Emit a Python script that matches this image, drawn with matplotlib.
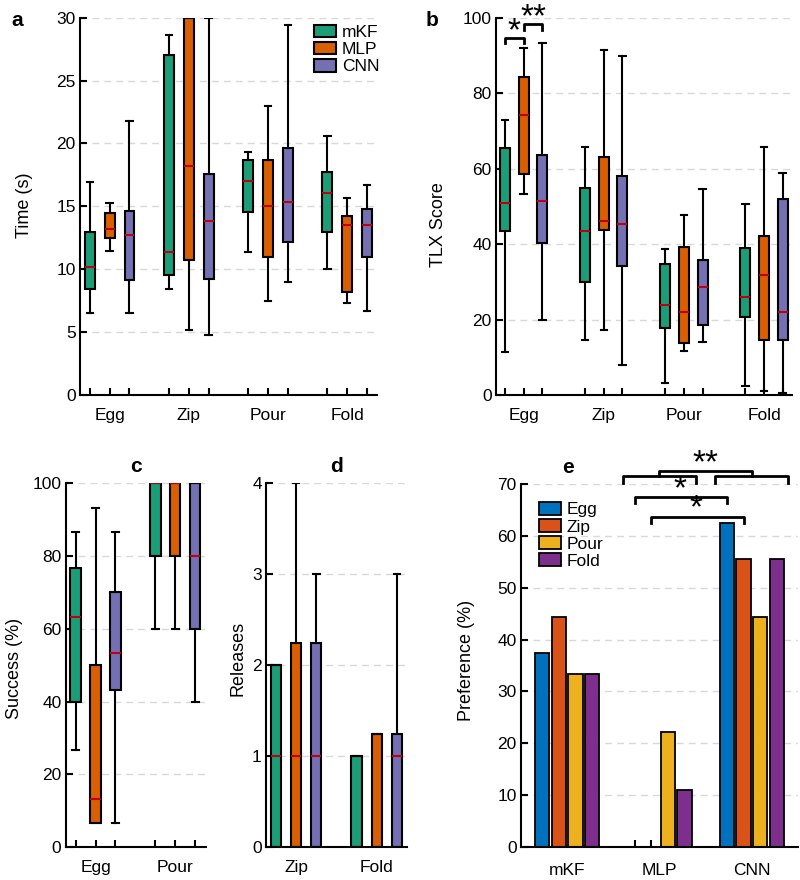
import numpy as np
import matplotlib
matplotlib.use('Agg')
import matplotlib.pyplot as plt
from matplotlib.patches import Patch

plt.rcParams['font.family'] = ['Liberation Sans', 'DejaVu Sans']
plt.rcParams['font.size'] = 12.5

# ---- data ----
methods = ['mKF', 'MLP', 'CNN']
method_colors = ['#1b9e77', '#d95f02', '#7570b3']
median_color = '#c00010'

# panel a: completion time (s), rows = task, cols = method
time_tasks = ['Egg', 'Zip', 'Pour', 'Fold']
time_lo = [[6.5, 11.45, 6.5], [8.4, 5.2, 4.8], [11.4, 7.5, 8.95], [10.0, 7.35, 6.65]]
time_q1 = [[8.4, 12.5, 9.15], [9.55, 10.7, 9.2], [14.55, 11.0, 12.2], [13.0, 8.2, 11.0]]
time_med = [[10.2, 13.2, 12.7], [11.35, 18.2, 13.8], [17.0, 15.0, 15.35], [16.1, 13.5, 13.5]]
time_q3 = [[13.0, 14.5, 14.6], [27.0, 30.0, 17.6], [18.7, 18.7, 19.65], [17.7, 14.25, 14.8]]
time_hi = [[16.9, 15.3, 21.8], [28.6, 30.0, 30.0], [19.3, 23.0, 29.4], [20.6, 15.7, 16.7]]

# panel b: TLX score
tlx_lo = [[11.3, 53.4, 19.8], [14.6, 17.2, 7.9], [3.1, 11.6, 14.2], [2.3, 1.0, 0.5]]
tlx_q1 = [[43.5, 58.7, 40.4], [29.9, 43.7, 34.1], [17.7, 13.8, 18.5], [20.6, 14.6, 14.7]]
tlx_med = [[50.9, 74.2, 51.4], [43.6, 46.1, 45.2], [24.0, 22.1, 28.7], [26.0, 31.9, 22.1]]
tlx_q3 = [[65.5, 84.3, 63.7], [54.8, 63.2, 58.0], [34.7, 39.2, 35.9], [39.0, 42.1, 51.9]]
tlx_hi = [[73.0, 91.9, 93.4], [65.8, 91.4, 89.7], [38.8, 47.7, 54.7], [50.6, 65.6, 58.8]]

# panel c: success (%)
succ_tasks = ['Egg', 'Pour']
succ_lo = [[26.7, 6.7, 6.7], [60, 60, 40]]
succ_q1 = [[40, 6.7, 43.3], [80, 80, 60]]
succ_med = [[63.3, 13.3, 53.3], [100, 100, 80]]
succ_q3 = [[76.7, 50, 70], [100, 100, 100]]
succ_hi = [[86.7, 93.3, 86.7], [100, 100, 100]]

# panel d: releases
rel_tasks = ['Zip', 'Fold']
rel_lo = [[0, 0, 0], [0, 0, 0]]
rel_q1 = [[0, 0, 0], [0, 0, 0]]
rel_med = [[1, 1, 1], [0, 0, 1]]
rel_q3 = [[2, 2.25, 2.25], [1, 1.25, 1.25]]
rel_hi = [[2, 4, 3], [1, 1.25, 3]]

# panel e: preference (%)
pref_tasks = ['Egg', 'Zip', 'Pour', 'Fold']
pref_colors = ['#0072BD', '#D95319', '#EDB120', '#7E2F8E']
pref_mkf = [37.5, 44.4, 33.3, 33.3]
pref_mlp = [0, 0, 22.2, 11.1]
pref_cnn = [62.5, 55.6, 44.4, 55.6]

grid_kw = dict(color='#d9d9d9', lw=1.0, ls=(0, (5, 3.6)))
star_kw = dict(ha='center', va='center', fontsize=24, clip_on=False)


def style_axes(ax, ymax, ystep):
    ax.spines['top'].set_visible(False)
    ax.spines['right'].set_visible(False)
    ax.spines['left'].set_linewidth(1.5)
    ax.spines['bottom'].set_linewidth(1.5)
    ax.set_ylim(0, ymax)
    ax.set_yticks(np.arange(0, ymax + ystep / 2, ystep))
    ax.tick_params(direction='in', length=5, width=1.5, labelsize=12.5, pad=3)
    ax.tick_params(axis='x', pad=9)
    ax.yaxis.grid(True, **grid_kw)
    ax.set_axisbelow(True)


def boxes(ax, tasks, lo, q1, med, q3, hi, off, width):
    stats, pos, cols = [], [], []
    for i in range(len(tasks)):
        for j in range(3):
            stats.append(dict(med=med[i][j], q1=q1[i][j], q3=q3[i][j],
                              whislo=lo[i][j], whishi=hi[i][j], fliers=[]))
            pos.append(i + 1 + (j - 1) * off)
            cols.append(method_colors[j])
    res = ax.bxp(stats, positions=pos, widths=width, patch_artist=True,
                 showfliers=False, manage_ticks=False,
                 capwidths=width * 0.65,
                 boxprops=dict(edgecolor='k', lw=1.5),
                 whiskerprops=dict(color='k', lw=1.5),
                 capprops=dict(color='k', lw=1.5),
                 medianprops=dict(color=median_color, lw=1.5))
    for b, c in zip(res['boxes'], cols):
        b.set_facecolor(c)
    labels = []
    for t in tasks:
        labels += ['', t, '']
    ax.set_xticks(pos)
    ax.set_xticklabels(labels)
    ax.set_xlim(1 - 1.5 * off, len(tasks) + 1.5 * off)


leg_kw = dict(loc='upper left', frameon=False, handlelength=1.25, handleheight=0.75,
              handletextpad=0.35, labelspacing=0.1, fontsize=12.5, borderaxespad=0)

fig = plt.figure(figsize=(8, 8.8), dpi=100)

# a
ax_a = fig.add_axes([0.1, 0.551, 0.371, 0.429])
style_axes(ax_a, 30, 5)
boxes(ax_a, time_tasks, time_lo, time_q1, time_med, time_q3, time_hi, 0.25, 0.125)
ax_a.set_ylabel('Time (s)', fontsize=13)
ax_a.yaxis.set_label_coords(-0.158, 0.503)
ax_a.legend([Patch(facecolor=c, edgecolor='k', lw=1.5) for c in method_colors], methods,
            bbox_to_anchor=(0.765, 1.0), **leg_kw)

# b
ax_b = fig.add_axes([0.6196, 0.551, 0.3704, 0.429])
style_axes(ax_b, 100, 20)
boxes(ax_b, time_tasks, tlx_lo, tlx_q1, tlx_med, tlx_q3, tlx_hi, 0.233, 0.125)
ax_b.set_ylabel('TLX Score', fontsize=13)
ax_b.yaxis.set_label_coords(-0.164, 0.452)
# significance brackets (Egg)
xm, xl, xc = 1, 1 - 0.233, 1 + 0.233
ax_b.plot([xl, xl, xm, xm], [93.2, 94.5, 94.5, 93.2], color='k', lw=2, clip_on=False)
ax_b.plot([xm, xm, xc, xc], [96.7, 98.3, 98.3, 96.7], color='k', lw=2, clip_on=False)
ax_b.text((xl + xm) / 2, 96.3, '*', **star_kw)
ax_b.text((xm + xc) / 2, 99.9, '**', **star_kw)

# c
ax_c = fig.add_axes([0.082, 0.0372, 0.176, 0.4136])
style_axes(ax_c, 100, 20)
boxes(ax_c, succ_tasks, succ_lo, succ_q1, succ_med, succ_q3, succ_hi, 0.25, 0.13)
ax_c.set_xlim(0.625, 2.39)
ax_c.set_ylabel('Success (%)', fontsize=13)
ax_c.yaxis.set_label_coords(-0.303, 0.49)
ax_c.set_title('c', fontsize=15, fontweight='bold', pad=8)

# d
ax_d = fig.add_axes([0.3325, 0.0372, 0.176, 0.4136])
style_axes(ax_d, 4, 1)
boxes(ax_d, rel_tasks, rel_lo, rel_q1, rel_med, rel_q3, rel_hi, 0.25, 0.13)
ax_d.set_xlim(0.628, 2.372)
ax_d.set_ylabel('Releases', fontsize=13)
ax_d.yaxis.set_label_coords(-0.142, 0.52)
ax_d.set_title('d', fontsize=15, fontweight='bold', pad=8)

# e
ax_e = fig.add_axes([0.651, 0.0372, 0.3467, 0.4131])
style_axes(ax_e, 70, 10)
x = np.arange(1, len(methods) + 1)
offs = [-0.27, -0.09, 0.09, 0.27]
pref = np.array([pref_mkf, pref_mlp, pref_cnn])
for k, t in enumerate(pref_tasks):
    ax_e.bar(x + offs[k], pref[:, k], width=0.155, color=pref_colors[k],
             edgecolor='k', lw=1.3, label=t)
ax_e.set_xlim(0.5, 3.5)
ax_e.set_xticks(x)
ax_e.set_xticklabels(methods)
ax_e.tick_params(axis='x', length=0, pad=11)
ax_e.set_xticks(np.concatenate([x + o for o in offs]), minor=True)
ax_e.tick_params(axis='x', which='minor', direction='in', length=5, width=1.5)
ax_e.set_ylabel('Preference (%)', fontsize=13)
ax_e.yaxis.set_label_coords(-0.165, 0.515)
ax_e.set_title('e', fontsize=15, fontweight='bold', pad=8, x=0.17)
ax_e.legend(bbox_to_anchor=(0.04, 0.969), **leg_kw)

# significance brackets in e
ax_e.plot([1.605, 1.605, 2.39, 2.39], [70.2, 71.54, 71.54, 70.2], color='k', lw=2, clip_on=False)
ax_e.plot([2.60, 2.60, 3.395, 3.395], [70.2, 71.54, 71.54, 70.2], color='k', lw=2, clip_on=False)
ax_e.plot([2.0, 2.0, 3.0, 3.0], [71.54, 72.45, 72.45, 71.54], color='k', lw=2, clip_on=False)
ax_e.text(2.5, 73.9, '**', **star_kw)
ax_e.plot([2 + offs[0], 2 + offs[0], 3 + offs[0], 3 + offs[0]], [66.2, 67.4, 67.4, 66.2],
          color='k', lw=2, clip_on=False)
ax_e.text(2.22, 68.9, '*', **star_kw)
ax_e.plot([2 + offs[1], 2 + offs[1], 3 + offs[1], 3 + offs[1]], [62.4, 63.5, 63.5, 62.4],
          color='k', lw=2, clip_on=False)
ax_e.text(2.4, 65.1, '*', **star_kw)

fig.text(0.021, 0.977, 'a', fontsize=15, fontweight='bold', ha='center', va='center')
fig.text(0.54, 0.977, 'b', fontsize=15, fontweight='bold', ha='center', va='center')

fig.savefig('out.png', dpi=100)
